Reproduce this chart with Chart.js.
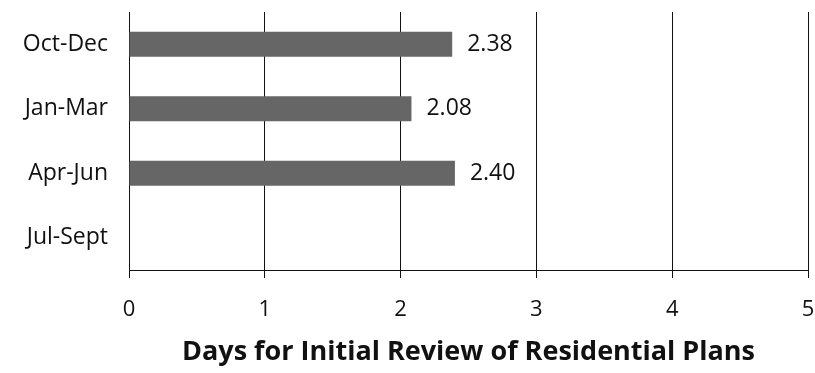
<!DOCTYPE html>
<html lang="en">
<head>
    <meta charset="UTF-8">
    <title>Days for Initial Review of Residential Plans</title>
    <script src="https://cdn.jsdelivr.net/npm/chart.js"></script>
    <style>
        html, body { margin: 0; padding: 0; background: #fff; }
        #wrap { width: 815px; height: 373px; }
    </style>
</head>
<body>
    <div id="wrap"><canvas id="reviewChart" width="815" height="373"></canvas></div>

    <script>
        // quarters, top to bottom
        const quarters = ['Oct-Dec', 'Jan-Mar', 'Apr-Jun', 'Jul-Sept'];
        const reviewDays = [2.38, 2.08, 2.40, null];
        const dayTicks = [0, 1, 2, 3, 4, 5];

        const fontFamily = '"Open Sans", "Noto Sans", sans-serif';

        // value labels to the right of each bar
        const valueLabels = {
            id: 'valueLabels',
            afterDatasetsDraw(chart) {
                const ctx = chart.ctx;
                const meta = chart.getDatasetMeta(0);
                ctx.save();
                ctx.font = '23px ' + fontFamily;
                ctx.fillStyle = '#111';
                ctx.textAlign = 'left';
                ctx.textBaseline = 'middle';
                meta.data.forEach(function (bar, i) {
                    const v = reviewDays[i];
                    if (v === null) return;
                    ctx.fillText(v.toFixed(2), bar.x + 15, bar.y);
                });
                ctx.restore();
            }
        };

        new Chart(document.getElementById('reviewChart'), {
            type: 'bar',
            data: {
                labels: quarters,
                datasets: [{
                    data: reviewDays,
                    backgroundColor: '#666666',
                    borderWidth: 0,
                    barPercentage: 0.39,
                    categoryPercentage: 1
                }]
            },
            options: {
                indexAxis: 'y',
                responsive: false,
                animation: false,
                layout: { padding: { top: 12, right: 7, left: 0, bottom: 0 } },
                plugins: {
                    legend: { display: false },
                    tooltip: { enabled: false }
                },
                scales: {
                    x: {
                        min: 0,
                        max: 5,
                        afterBuildTicks(scale) {
                            scale.ticks = dayTicks.map(v => ({ value: v }));
                        },
                        afterFit(scale) {
                            scale.height = 103;
                            scale.paddingLeft = 0;
                            scale.paddingRight = 0;
                        },
                        grid: { color: '#111', lineWidth: 1, tickLength: 8 },
                        border: { display: true, color: '#111', width: 1 },
                        ticks: {
                            color: '#111',
                            padding: 19,
                            font: { family: fontFamily, size: 22 }
                        },
                        title: {
                            display: true,
                            text: 'Days for Initial Review of Residential Plans',
                            color: '#111',
                            font: { family: fontFamily, size: 27, weight: 'bold' },
                            padding: { top: 0, bottom: 4 }
                        }
                    },
                    y: {
                        afterFit(scale) {
                            scale.width = 129;
                            scale.paddingTop = 0;
                            scale.paddingBottom = 0;
                        },
                        grid: { display: false, drawTicks: false },
                        border: { display: true, color: '#111', width: 1 },
                        ticks: {
                            color: '#111',
                            padding: 21,
                            font: { family: fontFamily, size: 23 }
                        }
                    }
                }
            },
            plugins: [valueLabels]
        });
    </script>
</body>
</html>
